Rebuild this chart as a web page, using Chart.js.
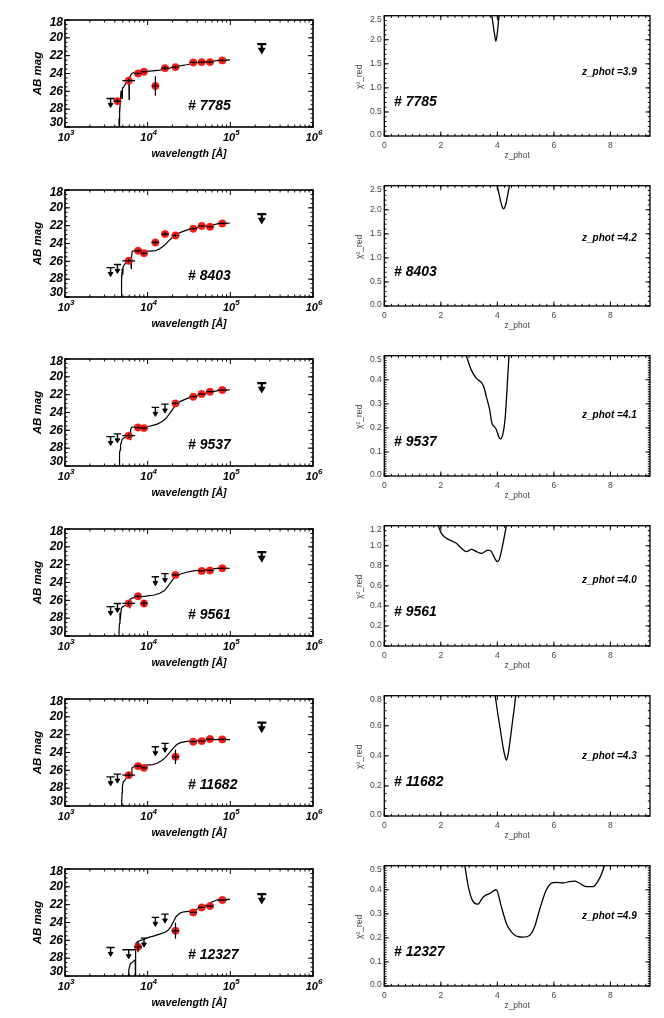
<!DOCTYPE html>
<html><head><meta charset="utf-8">
<script src="https://cdn.jsdelivr.net/npm/chart.js@4.4.0/dist/chart.umd.min.js"></script>
<style>
html,body{margin:0;padding:0;background:#fff;width:664px;height:1018px;overflow:hidden;position:relative}
canvas{position:absolute}
</style></head><body>
<script>
// ================= DATA =================
const objectIds = ['7785','8403','9537','9561','11682','12327'];
const zPhot     = ['3.9','4.2','4.1','4.0','4.3','4.9'];

// filter effective wavelengths [Angstrom]: U,B,V,i,z,J,H,K,3.6,4.5,5.8,8.0,24um
const filterWave    = [3560,4310,5900,7650,9030,12400,16200,21700,35600,45000,56700,80000,240000];
const filterHalfDex = [0.05,0.045,0.077,0.045,0.04,0.045,0.045,0.045,0.045,0.045,0.045,0.06,0.055];

// photometry: mag (null = none), flag d = detection, u = upper limit, err = mag error
const mag7785  = [26.8,27.1,24.8,24.0,23.8,25.4,23.4,23.28,22.76,22.72,22.72,22.53,20.7];
const flag7785 = ['u','d','d','d','d','d','d','d','d','d','d','d','u'];
const err7785  = [0,0.25,0.2,0.15,0.15,1.1,0.2,0.2,0.12,0.12,0.15,0.12,0];

const mag8403  = [26.7,26.35,25.94,24.82,25.1,23.88,22.94,23.1,22.34,22.04,22.12,21.75,20.7];
const flag8403 = ['u','u','d','d','d','d','d','d','d','d','d','d','u'];
const err8403  = [0,0,0.2,0.15,0.15,0.2,0.2,0.15,0.1,0.1,0.12,0.1,0];

const mag9537  = [26.7,26.4,26.6,25.68,25.75,23.43,23.06,22.98,22.23,21.93,21.67,21.48,20.7];
const flag9537 = ['u','u','d','d','d','u','u','d','d','d','d','d','u'];
const err9537  = [0,0,0.25,0.15,0.15,0,0,0.15,0.1,0.1,0.1,0.1,0];

const mag9561  = [26.7,26.35,26.35,25.55,26.35,23.35,23.0,23.15,null,22.7,22.65,22.4,20.6];
const flag9561 = ['u','u','d','d','d','u','u','d','d','d','d','d','u'];
const err9561  = [0,0,0.3,0.15,0.35,0,0,0.15,0,0.1,0.1,0.1,0];

const mag11682  = [26.73,26.43,26.54,25.53,25.72,23.36,22.98,24.48,22.79,22.72,22.49,22.53,20.66];
const flag11682 = ['u','u','d','d','d','u','u','d','d','d','d','d','u'];
const err11682  = [0,0,0.3,0.15,0.15,0,0,0.8,0.1,0.1,0.1,0.1,0];

const mag12327  = [26.8,null,27.06,26.73,25.75,23.43,23.06,24.93,22.87,22.31,22.16,21.48,20.81];
const flag12327 = ['u','u','u','d','u','u','u','d','d','d','d','d','u'];
const err12327  = [0,0,0,0.6,0,0,0,0.9,0.1,0.1,0.1,0.1,0];

// best-fit SED models (wavelength [A], AB mag)
const modelW7785 = [4480,4520,4540,4560,4620,4680,4760,4850,4900,4950,5100,5200,5400,5600,5800,5920,5960,6000,6300,6700,7500,8500,9700,11500,14000,16500,18500,20500,24000,29600,35600,45000,56600,70000,99000];
const modelM7785 = [31,29,27.8,30,28.5,27.0,26.0,25.9,26.8,25.6,25.6,25.4,25.2,24.9,24.8,24.7,26.9,24.5,24.1,23.9,23.85,23.8,23.77,23.7,23.62,23.5,23.4,23.25,23.15,23.02,22.88,22.72,22.64,22.55,22.48];

const modelW8403 = [4780,4800,4830,4870,4920,5000,5050,5200,5400,5700,6000,6250,6320,6360,6500,7000,8000,9000,10500,12500,14000,16000,18000,20000,22000,25000,29600,35600,45000,56600,70000,99000];
const modelM8403 = [31,29.1,27.5,28.2,26.8,27.5,26.6,26.4,26.2,26.0,25.95,25.9,26.8,25.6,24.9,24.8,24.75,24.82,24.85,24.8,24.6,24.2,23.7,23.3,23.0,22.75,22.5,22.3,22.12,21.98,21.8,21.7];

const modelW9537 = [4520,4540,4600,4650,4700,4800,4900,5100,5300,5600,6000,6150,6200,6250,6400,7000,8000,9000,10000,11500,13000,14500,16500,18500,20500,22500,25000,29600,35600,45000,56600,70000,99000];
const modelM9537 = [31,29,28.5,28.2,27.6,27.4,27.0,26.9,26.8,26.7,26.4,26.5,27.1,25.9,25.65,25.6,25.62,25.65,25.6,25.45,25.3,25.1,24.7,24.1,23.5,23.05,22.75,22.45,22.2,21.95,21.75,21.55,21.45];

const modelW9561 = [4480,4500,4560,4620,4700,4800,5000,5300,5600,5900,6050,6080,6120,6500,7500,8500,10000,12000,14000,16000,18000,20000,22000,25000,29600,35600,45000,56600,70000,99000];
const modelM9561 = [31,29.5,28.6,27.4,27.8,26.9,26.7,26.6,26.5,26.4,26.3,26.9,25.9,25.75,25.65,25.6,25.5,25.4,25.2,24.9,24.3,23.7,23.3,23.05,22.85,22.7,22.6,22.5,22.42,22.4];

const modelW11682 = [4820,4850,4900,4950,5050,5200,5400,5700,6000,6300,6420,6460,6800,8000,9700,11500,13000,14500,16200,18600,20400,22500,25000,29600,35600,45000,56600,70000,99000];
const modelM11682 = [31,29.7,28.5,27.85,27.3,27.2,27.0,26.7,26.65,26.6,26.6,25.75,25.6,25.5,25.42,25.35,25.2,24.95,24.6,23.95,23.5,23.1,22.9,22.75,22.68,22.6,22.55,22.55,22.55];

const modelW12327 = [5750,5800,5900,6050,6200,6500,6800,7050,7120,7180,7400,8000,9000,10000,12000,14000,16200,17500,19000,20500,22000,24600,27500,31000,35600,42000,50000,60000,70000,80000,99000];
const modelM12327 = [31,30.0,29.4,28.9,28.6,28.5,28.3,28.2,30.5,26.4,26.2,26.05,25.9,25.7,25.5,25.3,25.1,24.9,24.5,23.9,23.35,22.95,22.8,22.75,22.65,22.4,22.1,21.7,21.45,21.4,21.4];

// reduced chi^2 vs redshift
const chiZ7785 = [3.76,3.84,3.9,3.95,4.0,4.05,4.1];
const chiV7785 = [2.7,2.35,2.12,1.97,2.15,2.45,2.7];
const chiZ8403 = [3.1,3.3,3.5,3.95,4.05,4.15,4.22,4.3,4.38,4.46];
const chiV8403 = [2.8,2.49,2.8,2.6,2.35,2.1,2.02,2.12,2.35,2.6];
const chiZ9537 = [2.9,3.08,3.26,3.44,3.52,3.61,3.73,3.81,3.87,3.96,4.05,4.11,4.2,4.28,4.34,4.41];
const chiV9537 = [0.5,0.44,0.406,0.388,0.371,0.33,0.274,0.219,0.208,0.194,0.163,0.154,0.177,0.247,0.357,0.5];
const chiZ9561 = [1.91,2.02,2.2,2.44,2.55,2.73,2.91,3.08,3.26,3.44,3.55,3.67,3.79,3.91,4.0,4.08,4.2,4.32];
const chiV9561 = [1.2,1.124,1.074,1.04,1.024,0.974,0.941,0.964,0.941,0.924,0.94,0.957,0.941,0.874,0.841,0.874,1.024,1.2];
const chiZ11682 = [2.75,2.9,3.05,3.8,3.92,4.0,4.1,4.2,4.28,4.32,4.38,4.45,4.53,4.6,4.66];
const chiV11682 = [0.9,0.79,0.9,0.9,0.8,0.7,0.58,0.46,0.39,0.37,0.41,0.5,0.62,0.72,0.82];
const chiZ12327 = [2.85,2.96,3.1,3.3,3.5,3.73,3.96,4.14,4.32,4.49,4.61,4.73,4.91,5.14,5.32,5.49,5.73,5.94,6.08,6.32,6.55,6.73,6.91,7.14,7.38,7.55,7.67,7.79];
const chiV12327 = [0.5,0.42,0.36,0.34,0.37,0.385,0.4,0.33,0.26,0.226,0.212,0.205,0.203,0.21,0.247,0.316,0.399,0.429,0.431,0.428,0.434,0.436,0.427,0.413,0.413,0.434,0.461,0.5];

// axis ticks
const sedXMajor = [1e3,1e4,1e5,1e6];
const sedXExp   = ['3','4','5','6'];
const sedYMajor = [18,20,22,24,26,28,30];
const chiXMajor = [0,2,4,6,8];
const chiYTicks = [
  [0,0.5,1.0,1.5,2.0,2.5],
  [0,0.5,1.0,1.5,2.0,2.5],
  [0,0.1,0.2,0.3,0.4,0.5],
  [0,0.2,0.4,0.6,0.8,1.0,1.2],
  [0,0.2,0.4,0.6,0.8],
  [0,0.1,0.2,0.3,0.4,0.5]];

// ================= LAYOUT / STYLE =================
const panels = [
  {mag:mag7785,flag:flag7785,err:err7785,mw:modelW7785,mm:modelM7785,cz:chiZ7785,cv:chiV7785},
  {mag:mag8403,flag:flag8403,err:err8403,mw:modelW8403,mm:modelM8403,cz:chiZ8403,cv:chiV8403},
  {mag:mag9537,flag:flag9537,err:err9537,mw:modelW9537,mm:modelM9537,cz:chiZ9537,cv:chiV9537},
  {mag:mag9561,flag:flag9561,err:err9561,mw:modelW9561,mm:modelM9561,cz:chiZ9561,cv:chiV9561},
  {mag:mag11682,flag:flag11682,err:err11682,mw:modelW11682,mm:modelM11682,cz:chiZ11682,cv:chiV11682},
  {mag:mag12327,flag:flag12327,err:err12327,mw:modelW12327,mm:modelM12327,cz:chiZ12327,cv:chiV12327}];
const chiYMinorPer = [5,5,10,4,4,10];
const zLabelY = [72,68.5,75,70,76,66];
const FF = '"Liberation Sans", Arial, Helvetica, sans-serif';
const CAN_H = 172;

function addCanvas(left, top, w, h){
  const c = document.createElement('canvas');
  c.width = w; c.height = h;
  c.style.left = left+'px'; c.style.top = top+'px';
  c.style.width = w+'px'; c.style.height = h+'px';
  document.body.appendChild(c);
  return c;
}
function drawText(ctx, s, x, y, o){
  ctx.save();
  ctx.translate(x, y);
  if (o.rot) ctx.rotate(o.rot);
  if (o.sx) ctx.scale(o.sx, 1);
  ctx.font = o.font; ctx.textAlign = o.align || 'left';
  ctx.textBaseline = o.baseline || 'alphabetic';
  ctx.fillStyle = o.color || '#000';
  ctx.fillText(s, 0, 0);
  ctx.restore();
}
function seg(ctx, x1, y1, x2, y2){ ctx.beginPath(); ctx.moveTo(x1,y1); ctx.lineTo(x2,y2); ctx.stroke(); }

const baseOpts = {
  responsive:false, animation:false, events:[],
  plugins:{legend:{display:false}, tooltip:{enabled:false}},
};

// ---------- SED panels ----------
function sedChart(i){
  const p = panels[i];
  const err=[], limN=[], limB=[], headN=[], headB=[], det=[];
  for (let k=0;k<filterWave.length;k++){
    const m = p.mag[k]; if (m==null) continue;
    const w = filterWave[k], h = filterHalfDex[k];
    const wl = w*Math.pow(10,-h), wr = w*Math.pow(10,h);
    if (p.flag[k]==='d'){
      det.push({x:w,y:m});
      err.push({x:wl,y:m},{x:wr,y:m},{x:w,y:null});
      if (p.err[k]>0) err.push({x:w,y:m-p.err[k]},{x:w,y:m+p.err[k]},{x:w,y:null});
    } else {
      const bold = (k===filterWave.length-1);
      const L = bold?limB:limN, H = bold?headB:headN;
      L.push({x:wl,y:m},{x:wr,y:m},{x:w,y:null},{x:w,y:m},{x:w,y:m+0.75},{x:w,y:null});
      H.push({x:w,y:m+(bold?0.66:0.7)});
    }
  }
  const model = p.mw.map((w,j)=>({x:w,y:p.mm[j]}));
  const line = (data,bw)=>({data,showLine:true,borderColor:'#000',borderWidth:bw,pointRadius:0,spanGaps:false,tension:0});
  const c = addCanvas(0, Math.round(169.7*i), 330, CAN_H);
  const decor = {
    id:'sedDecor',
    afterDraw(chart){
      const {ctx, chartArea:a, scales:{x,y}} = chart;
      ctx.save();
      ctx.strokeStyle='#000';
      ctx.lineWidth=1;
      // x ticks (log)
      sedXMajor.forEach(v=>{ const px=x.getPixelForValue(v); seg(ctx,px,a.bottom,px,a.bottom-5); seg(ctx,px,a.top,px,a.top+5); });
      for (let d=0; d<sedXMajor.length-1; d++) for (let m=2;m<=9;m++){
        const px=x.getPixelForValue(m*sedXMajor[d]);
        seg(ctx,px,a.bottom,px,a.bottom-2.5); seg(ctx,px,a.top,px,a.top+2.5);
      }
      // y ticks
      sedYMajor.forEach(v=>{ const py=y.getPixelForValue(v); seg(ctx,a.left,py,a.left+5,py); seg(ctx,a.right,py,a.right-5,py); });
      for (let v=sedYMajor[0]; v<=sedYMajor[sedYMajor.length-1]; v+=0.5){
        const py=y.getPixelForValue(v); seg(ctx,a.left,py,a.left+2.5,py); seg(ctx,a.right,py,a.right-2.5,py);
      }
      ctx.lineWidth=1.6;
      ctx.strokeRect(a.left,a.top,a.right-a.left,a.bottom-a.top);
      // y labels
      sedYMajor.forEach(v=>{
        let py=y.getPixelForValue(v); py=Math.min(Math.max(py,a.top+2.5),a.bottom-4);
        drawText(ctx,String(v),a.left-2,py,{font:'italic bold 12px '+FF,align:'right',baseline:'middle'});
      });
      // x labels 10^n
      sedXMajor.forEach((v,k)=>{
        const px=x.getPixelForValue(v);
        ctx.font='italic bold 11px '+FF; const w1=ctx.measureText('10').width;
        ctx.font='italic bold 8px '+FF; const w2=ctx.measureText(sedXExp[k]).width;
        const x0=px-(w1+w2)/2+1;
        drawText(ctx,'10',x0,a.bottom+14,{font:'italic bold 11px '+FF});
        drawText(ctx,sedXExp[k],x0+w1,a.bottom+8,{font:'italic bold 8px '+FF});
      });
      drawText(ctx,'wavelength [Å]',(a.left+a.right)/2,a.bottom+29.5,{font:'italic bold 11.5px '+FF,align:'center',sx:0.92});
      drawText(ctx,'AB mag',41,(a.top+a.bottom)/2,{font:'italic bold 11.5px '+FF,align:'center',rot:-Math.PI/2});
      drawText(ctx,'# '+objectIds[i],188,a.top+90,{font:'italic bold 15px '+FF,sx:0.93});
      ctx.restore();
    }
  };
  new Chart(c, {
    type:'scatter',
    data:{datasets:[
      line(err,1.2),
      line(limN,1.4),
      line(limB,2.2),
      {data:headN,pointStyle:'triangle',pointRotation:180,pointRadius:2.7,backgroundColor:'#000',borderColor:'#000',borderWidth:1,showLine:false},
      {data:headB,pointStyle:'triangle',pointRotation:180,pointRadius:3.2,backgroundColor:'#000',borderColor:'#000',borderWidth:1.4,showLine:false},
      {data:det,pointStyle:'circle',pointRadius:3.7,backgroundColor:'#f51b14',borderColor:'#f51b14',borderWidth:0.5,showLine:false},
      line(model,1.2)
    ]},
    options:Object.assign({}, baseOpts, {
      layout:{padding:{left:65,right:17,top:20,bottom:CAN_H-127}},
      scales:{
        x:{type:'logarithmic',min:1000,max:1e6,display:false},
        y:{type:'linear',min:18,max:30,reverse:true,display:false}
      }
    }),
    plugins:[decor]
  });
}

// ---------- chi^2 panels ----------
function chiChart(i){
  const p = panels[i];
  const ticks = chiYTicks[i];
  const ymax = ticks[ticks.length-1];
  const c = addCanvas(330, 170*i, 334, CAN_H);
  const decor = {
    id:'chiDecor',
    afterDraw(chart){
      const {ctx, chartArea:a, scales:{x,y}} = chart;
      ctx.save();
      ctx.strokeStyle='#000'; ctx.lineWidth=1;
      chiXMajor.forEach(v=>{ const px=x.getPixelForValue(v); seg(ctx,px,a.bottom,px,a.bottom-4.5); seg(ctx,px,a.top,px,a.top+4.5); });
      for (let v=0; v<=9.4; v+=0.25){
        const px=x.getPixelForValue(v); seg(ctx,px,a.bottom,px,a.bottom-2.2); seg(ctx,px,a.top,px,a.top+2.2);
      }
      const step = ticks[1]-ticks[0], mstep = step/chiYMinorPer[i];
      ticks.forEach(v=>{ const py=y.getPixelForValue(v); seg(ctx,a.left,py,a.left+4.5,py); seg(ctx,a.right,py,a.right-4.5,py); });
      for (let v=0; v<=ymax+1e-9; v+=mstep){
        const py=y.getPixelForValue(v); seg(ctx,a.left,py,a.left+2.2,py); seg(ctx,a.right,py,a.right-2.2,py);
      }
      ctx.lineWidth=1.3;
      ctx.strokeRect(a.left,a.top,a.right-a.left,a.bottom-a.top);
      const tf = '8.5px '+FF, tc='#444';
      ticks.forEach(v=>{
        let py=y.getPixelForValue(v); py=Math.min(Math.max(py,a.top+3.5),a.bottom-1);
        drawText(ctx,v.toFixed(1),a.left-2.5,py,{font:tf,align:'right',baseline:'middle',color:tc});
      });
      chiXMajor.forEach(v=>{
        drawText(ctx,String(v),x.getPixelForValue(v),a.bottom+12.3,{font:tf,align:'center',color:tc});
      });
      drawText(ctx,'z_phot',(a.left+a.right)/2,a.bottom+22,{font:'8.5px '+FF,align:'center',color:tc});
      drawText(ctx,'χ²_red',32,(a.top+a.bottom)/2+1,{font:'8.5px '+FF,align:'center',color:tc,rot:-Math.PI/2});
      drawText(ctx,'z_phot =' + zPhot[i],252,zLabelY[i],{font:'italic bold 10px '+FF,baseline:'middle'});
      drawText(ctx,'# '+objectIds[i],64,a.top+90,{font:'italic bold 15px '+FF,sx:0.93});
      ctx.restore();
    }
  };
  new Chart(c, {
    type:'scatter',
    data:{datasets:[{
      data:p.cz.map((z,j)=>({x:z,y:p.cv[j]})),
      showLine:true,borderColor:'#000',borderWidth:1.3,pointRadius:0,cubicInterpolationMode:'monotone'
    }]},
    options:Object.assign({}, baseOpts, {
      layout:{padding:{left:54.3,right:14,top:15.7,bottom:CAN_H-136}},
      scales:{
        x:{type:'linear',min:0,max:9.4,display:false},
        y:{type:'linear',min:0,max:ymax,display:false}
      }
    }),
    plugins:[decor]
  });
}

for (let i=0;i<6;i++){ sedChart(i); chiChart(i); }
</script>
</body></html>
